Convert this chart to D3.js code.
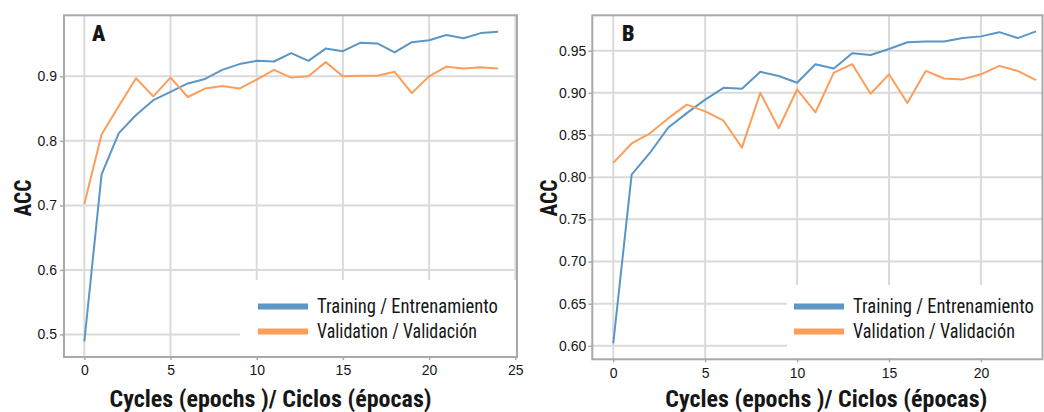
<!DOCTYPE html>
<html>
<head>
<meta charset="utf-8">
<script src="https://cdn.jsdelivr.net/npm/d3@7"></script>
<style>
  html, body { margin: 0; padding: 0; background: #fff; }
  svg { display: block; }
</style>
</head>
<body>
<svg id="chart" width="1044" height="412"></svg>
<script>
// Panel A: accuracy per epoch (25 epochs)
const epochsA = d3.range(0, 25);
const trainA = [0.489, 0.748, 0.812, 0.840, 0.863, 0.876, 0.889, 0.896, 0.910, 0.919,
                0.924, 0.923, 0.936, 0.924, 0.943, 0.939, 0.952, 0.951, 0.937, 0.953,
                0.956, 0.964, 0.959, 0.967, 0.969];
const validA = [0.702, 0.810, 0.854, 0.897, 0.869, 0.898, 0.868, 0.881, 0.885, 0.881,
                0.895, 0.910, 0.898, 0.900, 0.922, 0.900, 0.901, 0.901, 0.907, 0.874,
                0.900, 0.915, 0.912, 0.914, 0.912];
const xTicksA = [0, 5, 10, 15, 20, 25];
const yTicksA = [0.5, 0.6, 0.7, 0.8, 0.9];

// Panel B: accuracy per epoch (24 epochs)
const epochsB = d3.range(0, 24);
const trainB = [0.603, 0.803, 0.829, 0.859, 0.876, 0.892, 0.906, 0.905, 0.925, 0.920,
                0.912, 0.934, 0.929, 0.947, 0.945, 0.952, 0.960, 0.961, 0.961, 0.965,
                0.967, 0.972, 0.965, 0.973];
const validB = [0.817, 0.840, 0.852, 0.870, 0.886, 0.878, 0.867, 0.835, 0.900, 0.858,
                0.904, 0.877, 0.924, 0.934, 0.899, 0.922, 0.888, 0.926, 0.917, 0.916,
                0.922, 0.932, 0.926, 0.915];
const xTicksB = [0, 5, 10, 15, 20];
const yTicksB = [0.60, 0.65, 0.70, 0.75, 0.80, 0.85, 0.90, 0.95];

const seriesNames = ["Training / Entrenamiento", "Validation / Validación"];
const xTitle = "Cycles (epochs )/ Ciclos (épocas)";
const yTitle = "ACC";

const COLORS = ["#5a96c6", "#fc9e5a"];
const TEXT = "#161616";
const BODY_FONT = "'Liberation Sans', Arial, sans-serif";
const COND_FONT = "'Roboto Condensed', Roboto, 'Liberation Sans Narrow', sans-serif";

const svg = d3.select("#chart");

// Squeeze a text horizontally so it spans the given width (condensed look).
function squeeze(sel, x, y, width, anchor) {
  const w = sel.node().getComputedTextLength();
  const k = Math.min(1, width / w);
  sel.attr("x", 0).attr("y", 0)
    .attr("text-anchor", anchor || "start")
    .attr("transform", `translate(${x},${y}) scale(${k},1)`);
}

function drawPanel(p) {
  const g = svg.append("g");
  const x = d3.scaleLinear().domain(p.xDomain).range([p.left, p.right]);
  const y = d3.scaleLinear().domain(p.yDomain).range([p.bottom, p.top]);

  // grid
  g.append("g").selectAll("line").data(p.xTicks).join("line")
    .attr("x1", d => x(d)).attr("x2", d => x(d))
    .attr("y1", p.top).attr("y2", p.bottom)
    .attr("stroke", "#dadada").attr("stroke-width", 2);
  g.append("g").selectAll("line").data(p.yTicks).join("line")
    .attr("x1", p.left).attr("x2", p.right)
    .attr("y1", d => y(d)).attr("y2", d => y(d))
    .attr("stroke", "#dadada").attr("stroke-width", 2);

  // legend backdrop
  g.append("rect")
    .attr("x", p.legendBox[0]).attr("y", p.legendBox[1])
    .attr("width", p.legendBox[2]).attr("height", p.legendBox[3])
    .attr("fill", "#fff");

  // axes
  const yAxis = d3.axisLeft(y).tickValues(p.yTicks).tickSize(4).tickPadding(p.yPad)
    .tickFormat(p.yFormat);
  const ya = g.append("g").attr("transform", `translate(${p.left},0)`).call(yAxis);
  const xAxis = d3.axisBottom(x).tickValues(p.xTicks).tickSize(3).tickPadding(p.xPad)
    .tickFormat(d3.format("d"));
  const xa = g.append("g").attr("transform", `translate(0,${p.bottom})`).call(xAxis);
  [ya, xa].forEach(a => {
    a.select(".domain").remove();
    a.selectAll(".tick line").attr("stroke", "#aaaaaa").attr("stroke-width", 1.5);
    a.selectAll(".tick text").attr("fill", TEXT)
      .style("font-family", BODY_FONT).style("font-size", "14px");
  });

  // frame
  g.append("rect")
    .attr("x", p.left).attr("y", p.top)
    .attr("width", p.right - p.left).attr("height", p.bottom - p.top)
    .attr("fill", "none").attr("stroke", "#a9a9a9").attr("stroke-width", 2);

  // series
  const line = d3.line().x((d, i) => x(p.epochs[i])).y(d => y(d));
  [p.train, p.valid].forEach((s, i) => {
    g.append("path").datum(s)
      .attr("d", line)
      .attr("fill", "none")
      .attr("stroke", COLORS[i])
      .attr("stroke-width", 2)
      .attr("stroke-linejoin", "round");
  });

  // panel letter
  g.append("text").attr("x", p.letterX).attr("y", 40.5)
    .text(p.letter)
    .attr("fill", TEXT).style("font-family", COND_FONT)
    .style("font-weight", 900).style("font-size", "22px");

  // legend
  seriesNames.forEach((name, i) => {
    const ly = 306.5 + i * 25;
    g.append("line")
      .attr("x1", p.legendX).attr("x2", p.legendX + 50)
      .attr("y1", ly).attr("y2", ly)
      .attr("stroke", COLORS[i]).attr("stroke-width", 6);
    const t = g.append("text")
      .text(name)
      .attr("fill", TEXT).style("font-family", COND_FONT).style("font-size", "20px");
    squeeze(t, p.legendX + 59, ly + 6, p.legendLen[i]);
  });

  // axis titles
  const xt = g.append("text")
    .text(xTitle)
    .attr("fill", TEXT).style("font-family", COND_FONT)
    .style("font-weight", 700).style("font-size", "24px");
  squeeze(xt, p.xTitleX, 407, p.xTitleLen, "middle");
  g.append("text")
    .attr("transform", `translate(${p.yTitleX},198) rotate(-90)`)
    .attr("text-anchor", "middle")
    .attr("textLength", 37).attr("lengthAdjust", "spacingAndGlyphs")
    .text(yTitle)
    .attr("fill", TEXT).style("font-family", COND_FONT)
    .style("font-weight", 700).style("font-size", "23px");
}

drawPanel({
  letter: "A", letterX: 92,
  epochs: epochsA, train: trainA, valid: validA,
  xTicks: xTicksA, yTicks: yTicksA, yFormat: d3.format(".1f"),
  xDomain: [-1.18, 25.1], yDomain: [0.465, 0.9946],
  left: 64, right: 517, top: 15.3, bottom: 357,
  yPad: 3, xPad: 5,
  legendBox: [240, 280, 276, 76], legendX: 258, legendLen: [181, 160],
  xTitleX: 270.5, xTitleLen: 325, yTitleX: 31
});

drawPanel({
  letter: "B", letterX: 622,
  epochs: epochsB, train: trainB, valid: validB,
  xTicks: xTicksB, yTicks: yTicksB, yFormat: d3.format(".2f"),
  xDomain: [-1.14, 23.35], yDomain: [0.584, 0.992],
  left: 592.3, right: 1042.5, top: 15.3, bottom: 359.3,
  yPad: 2, xPad: 6,
  legendBox: [787, 285, 255, 73], legendX: 794, legendLen: [181, 162],
  xTitleX: 826.3, xTitleLen: 329, yTitleX: 557
});
</script>
</body>
</html>
